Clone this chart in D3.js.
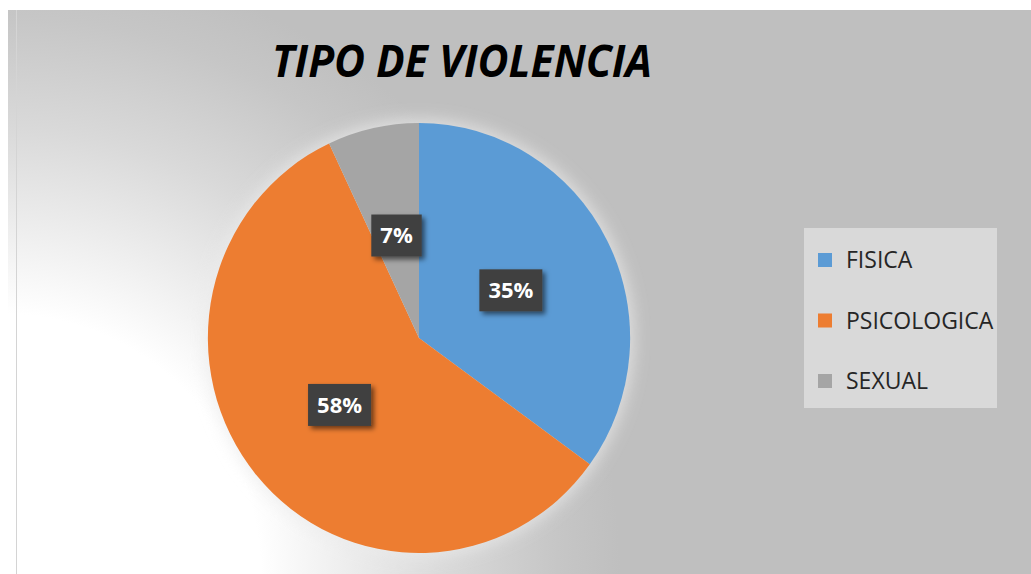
<!DOCTYPE html>
<html>
<head>
<meta charset="utf-8">
<script src="https://cdn.jsdelivr.net/npm/d3@7"></script>
<style>
  html, body { margin: 0; padding: 0; background: #fff; }
  svg { display: block; }
</style>
</head>
<body>
<div id="chart"></div>
<script>
var categories = ["FISICA", "PSICOLOGICA", "SEXUAL"];
var values = [35, 58, 7];
var colors = ["#5b9bd5", "#ed7d31", "#a5a5a5"];
var title = "TIPO DE VIOLENCIA";

var width = 1031, height = 574;
var cx = 419, cy = 338, radius = 215, labelRadius = 105;
var squeeze = 0.982; // the picture is a little narrower than it is tall

var svg = d3.select("#chart").append("svg")
    .attr("width", width)
    .attr("height", height);

var defs = svg.append("defs");

var bg = defs.append("radialGradient")
    .attr("id", "bg")
    .attr("gradientUnits", "userSpaceOnUse")
    .attr("cx", 0).attr("cy", 574).attr("r", 620);
bg.append("stop").attr("offset", 0).attr("stop-color", "#ffffff");
bg.append("stop").attr("offset", 0.42).attr("stop-color", "#ffffff");
bg.append("stop").attr("offset", 0.72).attr("stop-color", "#d9d9d9");
bg.append("stop").attr("offset", 0.9).attr("stop-color", "#c6c6c6");
bg.append("stop").attr("offset", 1).attr("stop-color", "#bfbfbf");

var glow = defs.append("filter").attr("id", "glow")
    .attr("x", "-20%").attr("y", "-20%").attr("width", "140%").attr("height", "140%");
glow.append("feGaussianBlur").attr("stdDeviation", 8);

var shadow = defs.append("filter").attr("id", "shadow")
    .attr("x", "-30%").attr("y", "-30%").attr("width", "160%").attr("height", "160%");
shadow.append("feDropShadow")
    .attr("dx", 3).attr("dy", 3).attr("stdDeviation", 2.5)
    .attr("flood-color", "#000").attr("flood-opacity", 0.55);

// chart area
svg.append("rect")
    .attr("x", 8).attr("y", 10)
    .attr("width", width - 8).attr("height", height - 10)
    .attr("fill", "url(#bg)");
svg.append("line")
    .attr("x1", 16.5).attr("x2", 16.5).attr("y1", 10).attr("y2", height)
    .attr("stroke", "#d4d4d4").attr("stroke-width", 1);

// title
svg.append("text")
    .attr("x", 272).attr("y", 77)
    .attr("textLength", 380)
    .attr("lengthAdjust", "spacingAndGlyphs")
    .style("font-family", "'Open Sans', sans-serif")
    .style("font-size", "45px")
    .style("font-weight", "bold")
    .style("font-style", "italic")
    .attr("fill", "#000")
    .text(title);

var pie = d3.pie().sort(null).value(function(d) { return d; });
var arcs = pie(values);
var arc = d3.arc().innerRadius(0).outerRadius(radius);
var labelArc = d3.arc().innerRadius(labelRadius).outerRadius(labelRadius);

var g = svg.append("g")
    .attr("transform", "translate(" + cx + "," + cy + ") scale(" + squeeze + ",1)");

g.append("circle")
    .attr("r", radius + 4)
    .attr("fill", "#ececec")
    .attr("opacity", 0.7)
    .attr("filter", "url(#glow)");

g.selectAll("path.slice")
    .data(arcs)
    .enter().append("path")
    .attr("class", "slice")
    .attr("d", arc)
    .attr("fill", function(d, i) { return colors[i]; });

var labels = svg.append("g")
    .attr("transform", "translate(" + cx + "," + cy + ")")
    .selectAll("g.lbl")
    .data(arcs)
    .enter().append("g")
    .attr("class", "lbl")
    .attr("transform", function(d) {
        var c = labelArc.centroid(d);
        return "translate(" + (c[0] * squeeze) + "," + c[1] + ")";
    });

labels.append("rect").attr("class", "box");
labels.append("text")
    .attr("text-anchor", "middle")
    .attr("dy", "0.36em")
    .style("font-family", "'Open Sans', sans-serif")
    .style("font-size", "22px")
    .style("font-weight", "bold")
    .attr("fill", "#fff")
    .text(function(d) { return d.data + "%"; })
    .each(function() {
        var w = this.getComputedTextLength();
        d3.select(this.parentNode).select("rect.box")
            .attr("x", -w / 2 - 9).attr("y", -21)
            .attr("width", w + 18).attr("height", 42)
            .attr("fill", "#404040")
            .attr("filter", "url(#shadow)");
    });

// legend
var legend = svg.append("g").attr("transform", "translate(804,228)");
legend.append("rect")
    .attr("width", 193).attr("height", 180)
    .attr("fill", "#d9d9d9");

var rowY = d3.scalePoint().domain(categories).range([32, 153]);

var item = legend.selectAll("g.item")
    .data(categories)
    .enter().append("g")
    .attr("class", "item")
    .attr("transform", function(d) { return "translate(0," + rowY(d) + ")"; });

item.append("rect")
    .attr("x", 14).attr("y", -7)
    .attr("width", 14).attr("height", 14)
    .attr("fill", function(d, i) { return colors[i]; });

item.append("text")
    .attr("x", 42)
    .attr("dy", "0.35em")
    .style("font-family", "'Open Sans', sans-serif")
    .style("font-size", "23px")
    .attr("fill", "#262626")
    .text(function(d) { return d; });
</script>
</body>
</html>
